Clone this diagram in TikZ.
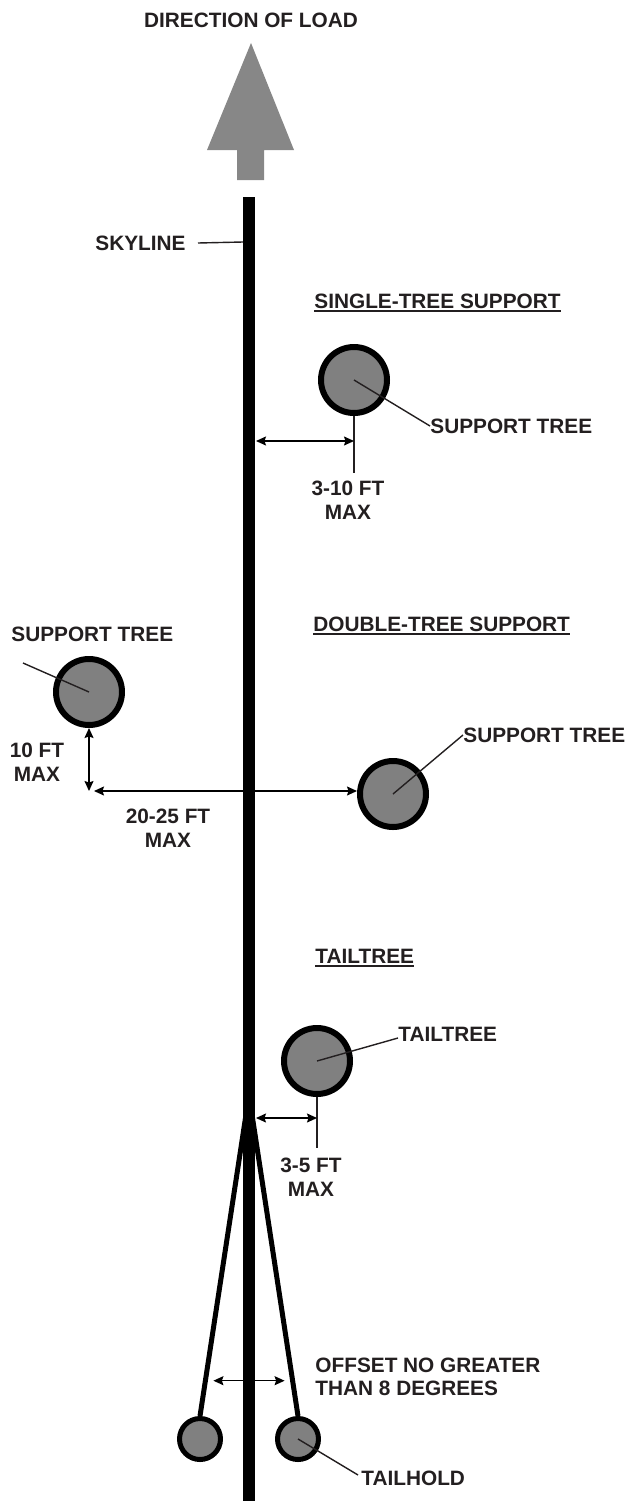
\documentclass[tikz,border=0pt]{standalone}
\usepackage{fontspec}
\setmainfont{Liberation Sans}
\usetikzlibrary{arrows.meta,calc}
\definecolor{treegray}{HTML}{808080}
\definecolor{loadgray}{HTML}{878787}
\definecolor{ink}{HTML}{231F20}
\begin{document}
\begin{tikzpicture}[x=1pt,y=-1pt,line join=round,>={Stealth[length=10pt,width=9pt,inset=1.5pt]},thick]
			\tikzset{every node/.style={font=\bfseries\fontsize{20.8}{24}\selectfont,text=ink,inner sep=0pt},
				tree/.style={circle,draw=black,line width=6pt,fill=treegray,minimum size=66pt},
				hold/.style={circle,draw=black,line width=5pt,fill=treegray,minimum size=41pt},
				lead/.style={line width=1.4pt,draw=ink},
				dim/.style={line width=1.4pt,draw=black,<->},
				head/.style={anchor=west}}
			\useasboundingbox (0,0) rectangle (630,1501);
			\node (load) at (251,20) {DIRECTION OF LOAD};
			\fill[loadgray] (251,43)--(294,150)--(264,150)--(264,180)--(237,180)--(237,150)--(207,150)--cycle;
			\coordinate (top) at (249,197);
			\coordinate (bot) at (249,1501);
			\draw[line width=12pt] (top)--(bot);
			\node[anchor=east] (skl) at (186,243) {SKYLINE};
			\coordinate (sk) at (243,242);
			\draw[lead] ([xshift=12pt]skl.east)--(sk);
			\node[head] (sh) at (314,301) {SINGLE-TREE SUPPORT};
			\node[tree] (st) at (354,380) {};
			\node[anchor=west] (stl) at (430,426) {SUPPORT TREE};
			\draw[lead] (st.center)--(stl.west);
			\coordinate (st1) at (354,473);
			\draw[lead] (st.south)--(st1);
			\coordinate (sd) at (256,441);
			\draw[dim] (sd)--(sd -| st);
			\node[align=center] (stm) at (348,500) {3-10 FT\\MAX};
			\node[head] (dh) at (313,624) {DOUBLE-TREE SUPPORT};
			\node[anchor=west] (ltl) at (11,634) {SUPPORT TREE};
			\node[tree] (lt) at (89,692) {};
			\coordinate (lt0) at (23,663);
			\draw[lead] (lt0)--(lt.center);
			\coordinate (cn) at (89,791);
			\draw[dim] (lt.south)--(cn);
			\node[tree] (rt) at (393,794) {};
			\draw[dim] ([xshift=5pt]cn)--(cn -| rt.west);
			\node[anchor=west] (rtl) at (463,735) {SUPPORT TREE};
			\draw[lead] (rt.center)--(rtl.west);
			\node[align=center] (ltm) at (37,762) {10 FT\\MAX};
			\node[align=center] (dm) at (168,828) {20-25 FT\\MAX};
			\node[head] (th) at (315,956) {TAILTREE};
			\node[tree] (tt) at (317,1061) {};
			\node[anchor=west] (ttl) at (398,1034) {TAILTREE};
			\draw[lead] (tt.center)--([yshift=-4pt]ttl.west);
			\coordinate (tt1) at (317,1148);
			\draw[lead] (tt.south)--(tt1);
			\coordinate (td) at (256,1118);
			\draw[dim] (td)--(td -| tt);
			\node[align=center] (ttm) at (311,1177) {3-5 FT\\MAX};
			\coordinate (apex) at (249,1095);
			\foreach \n/\x in {lh/200,rh/298}{
				\node[hold] (\n) at (\x,1439) {};
				\draw[line width=5pt] (apex)--(\n.north);
			}
			\draw[dim] ($(apex)!.89!(lh.north)+(8,0)$)--($(apex)!.89!(rh.north)-(8,0)$);
			\node[anchor=west,align=left] (off) at (315,1377) {OFFSET NO GREATER\\[-1pt]THAN 8 DEGREES};
			\node[anchor=west] (thl) at (361,1478) {TAILHOLD};
			\draw[lead] (rh.center)--([shift={(-3,-3)}]thl.west);
			\foreach \h in {sh,dh,th}
			\draw[line width=1.6pt,ink] ([yshift=-3pt]\h.base west)--([yshift=-3pt]\h.base east);
		\end{tikzpicture}
\end{document}
